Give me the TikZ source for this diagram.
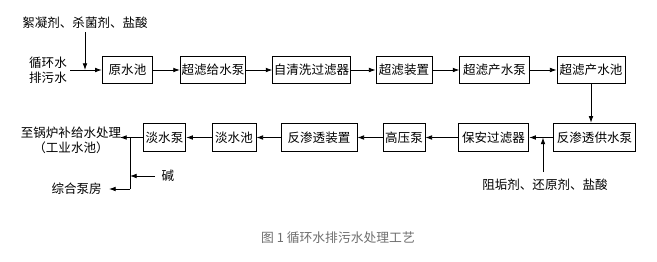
\documentclass[tikz,border=0pt]{standalone}
\usepackage{fontspec}
\setmainfont{Noto Sans CJK SC}
\usetikzlibrary{arrows.meta}
\definecolor{capgray}{RGB}{110,110,110}
\begin{document}
\begin{tikzpicture}[x=0.75pt,y=-0.75pt,
  box/.style={draw,line width=0.6pt,minimum height=20pt,inner sep=0.5pt,font=\fontsize{9.4}{11}\selectfont},
  lbl/.style={inner sep=0pt,font=\fontsize{9.4}{11}\selectfont,align=center},
  arr/.style={line width=0.6pt,-{Latex[length=5pt,width=3.5pt]}},
  ln/.style={line width=0.6pt}]
\useasboundingbox (0,0) rectangle (657,261);
% top row
\node[box,minimum width=38pt] (b1) at (127.5,70) {原水池};
\node[box,minimum width=49pt] (b2) at (213,70) {超滤给水泵};
\node[box,minimum width=58pt] (b3) at (311.5,70) {自清洗过滤器};
\node[box,minimum width=42pt] (b4) at (404,70) {超滤装置};
\node[box,minimum width=52pt] (b5) at (494.5,70) {超滤产水泵};
\node[box,minimum width=51pt] (b6) at (591,70) {超滤产水池};
% bottom row
\node[box,minimum width=32pt,minimum height=21.5pt] (c6) at (164.5,137.5) {淡水泵};
\node[box,minimum width=33pt,minimum height=21.5pt] (c5) at (234,137.5) {淡水池};
\node[box,minimum width=57pt,minimum height=21.5pt] (c4) at (319,137.5) {反渗透装置};
\node[box,minimum width=31.5pt,minimum height=21.5pt] (c3) at (404,137.5) {高压泵};
\node[box,minimum width=53pt,minimum height=21.5pt] (c2) at (493.5,137.5) {保安过滤器};
\node[box,minimum width=62pt,minimum height=21.5pt] (c1) at (594.5,137.5) {反渗透供水泵};
% texts
\node[lbl] (chem1) at (85,23) {絮凝剂、杀菌剂、盐酸};
\node[lbl,font=\fontsize{9.4}{11.2}\selectfont] (inw) at (48,70.5) {循环水\\排污水};
\node[lbl,font=\fontsize{9.4}{11.2}\selectfont] (out1) at (71,140.5) {至锅炉补给水处理\\（工业水池）};
\node[lbl,anchor=east] (out2) at (102,189) {综合泵房};
\node[lbl] (alk) at (168,176) {碱};
\node[lbl] (chem2) at (545,185) {阻垢剂、还原剂、盐酸};
\node[inner sep=0pt,font=\fontsize{9.6}{11}\selectfont,text=capgray] (cap) at (338,238) {图 1 循环水排污水处理工艺};
% coordinates
\coordinate (in1) at (70,70);
\coordinate (ch1) at (85,32);
\coordinate (ch1j) at (85,70);
\coordinate (o1) at (120,137.5);
\coordinate (j1) at (130,137.5);
\coordinate (j2) at (130,189);
\coordinate (o2) at (109,189);
\coordinate (j3) at (130,176);
\coordinate (a1) at (155,176);
\coordinate (ch2) at (543,172);
\coordinate (ch2j) at (543,137.5);
% top connectors
\draw[arr] (in1) -- (b1.west);
\draw[arr] (ch1) -- (ch1j);
\draw[arr] (b1) -- (b2);
\draw[arr] (b2) -- (b3);
\draw[arr] (b3) -- (b4);
\draw[arr] (b4) -- (b5);
\draw[arr] (b5) -- (b6);
\draw[arr] (b6.south) -- (b6.south |- c1.north);
% bottom connectors
\draw[arr] (c1) -- (c2);
\draw[arr] (ch2) -- (ch2j);
\draw[arr] (c2) -- (c3);
\draw[arr] (c3) -- (c4);
\draw[arr] (c4) -- (c5);
\draw[arr] (c5) -- (c6);
\draw[arr] (c6.west) -- (o1);
\draw[ln] (j1) -- (j2);
\draw[arr] (j2) -- (o2);
\draw[arr] (a1) -- (j3);
\end{tikzpicture}
\end{document}
